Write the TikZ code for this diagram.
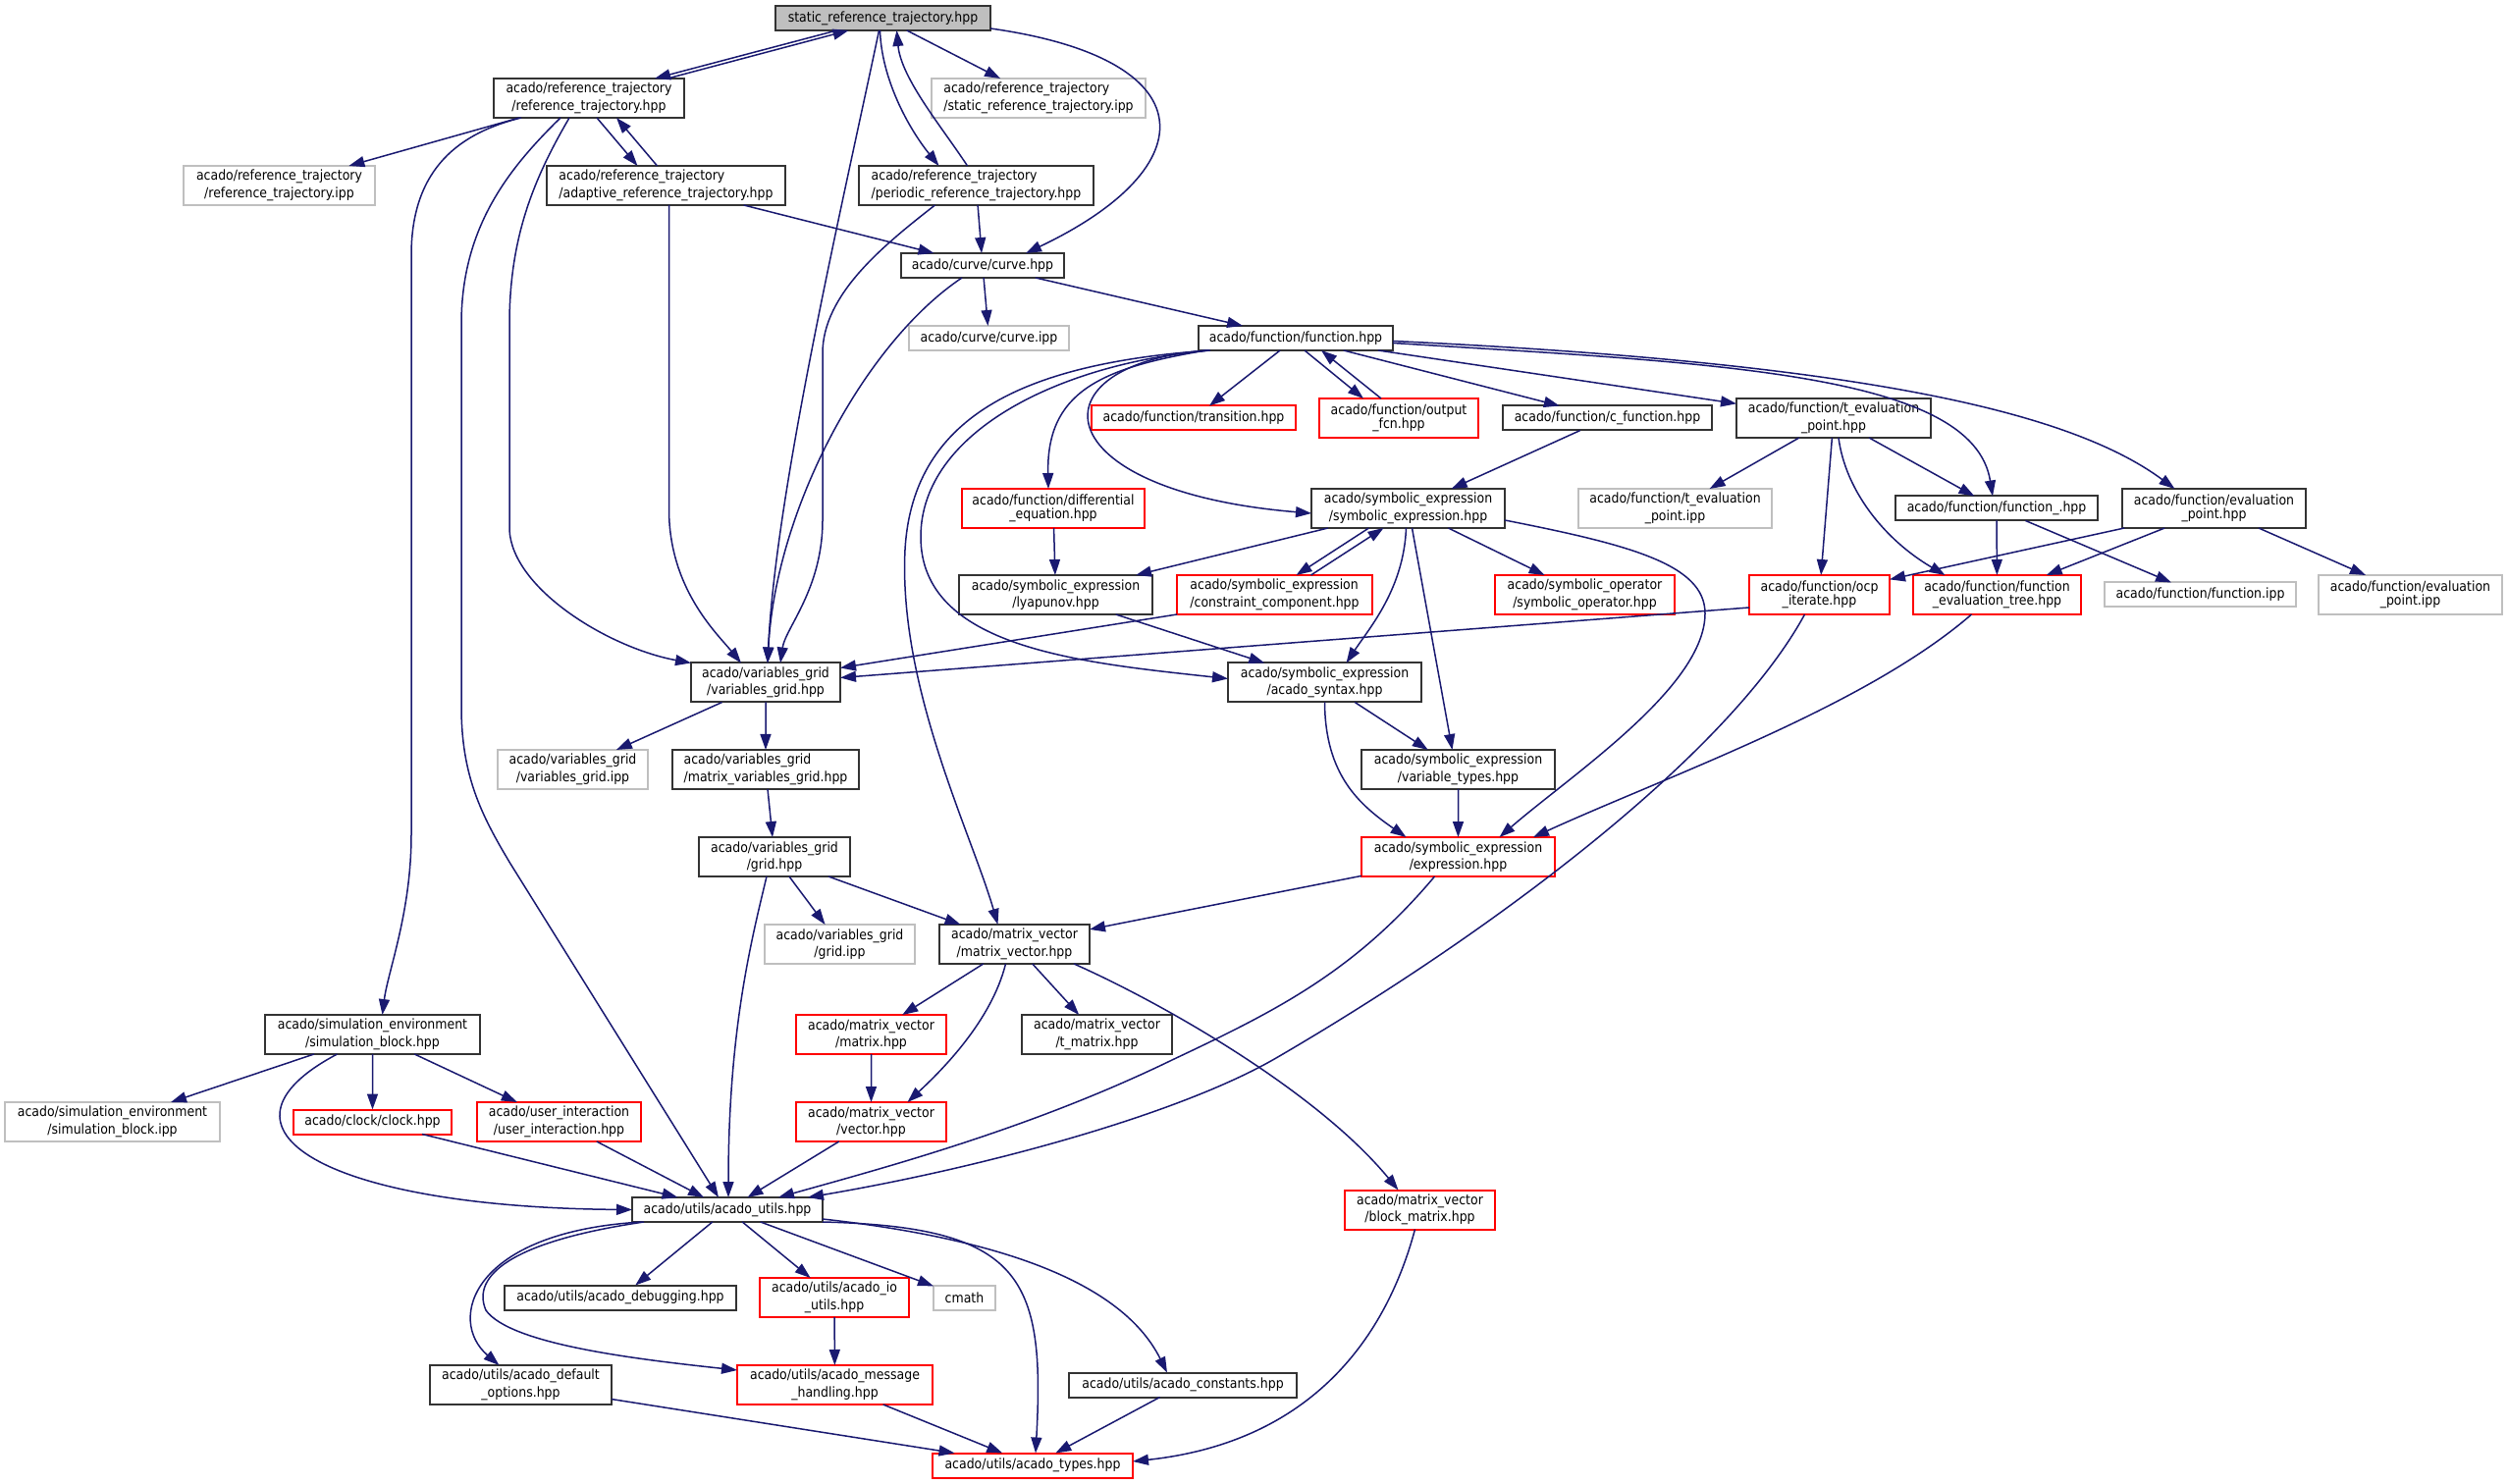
\documentclass[tikz,border=0pt]{standalone}
\usepackage{fontspec}
\setmainfont{DejaVu Sans}[FakeStretch=0.89]
\usepackage{tikz}
\usetikzlibrary{arrows.meta, positioning, calc}
\definecolor{edgeblue}{HTML}{191970}
\definecolor{redline}{HTML}{FF0000}
\definecolor{ghostline}{HTML}{BFBFBF}
\definecolor{rootfill}{HTML}{BFBFBF}

\begin{document}
\begin{tikzpicture}[
    x=0.1mm, y=-0.1mm,
    font=\fontsize{4pt}{3.98pt}\selectfont,
    box/.style={draw=black!80, line width=0.2mm, inner sep=0pt, outer sep=0pt, minimum height=4mm, align=center},
    one/.style={minimum height=2.5mm},
    w/.style={minimum width=#1mm},
    hot/.style={box, draw=redline},
    ghost/.style={box, draw=ghostline},
    cur/.style={box, fill=rootfill},
    ar/.style={-{Triangle[length=1.6mm, width=1.1mm]}, draw=edgeblue, line width=0.15mm}
  ]
    \useasboundingbox (0,0) rectangle (2555,1512);

    \node[cur, one, w=21.9] (root) at (899.5,18.5) {static\_reference\_trajectory.hpp};

    \node[box, w=19.4] (rt) at (600,100) {acado/reference\_trajectory\\/reference\_trajectory.hpp};
    \node[ghost, w=21.8, align=left, right=25.2mm of rt] (srtipp) {acado/reference\_trajectory\\/static\_reference\_trajectory.ipp};

    \node[ghost, w=19.5] (rtipp) at (284.5,189) {acado/reference\_trajectory\\/reference\_trajectory.ipp};
    \node[box, w=24.3, align=left, right=17.5mm of rtipp] (art) {acado/reference\_trajectory\\/adaptive\_reference\_trajectory.hpp};
    \node[box, w=23.9, align=left, right=7.5mm of art] (prt) {acado/reference\_trajectory\\/periodic\_reference\_trajectory.hpp};

    \node[box, one, w=16.6] (curve) at (1001,270.5) {acado/curve/curve.hpp};

    \node[ghost, one, w=16.3] (curveipp) at (1007.5,344.5) {acado/curve/curve.ipp};
    \node[box, one, w=19.8, right=13.2mm of curveipp] (function) {acado/function/function.hpp};

    \node[hot, one, w=20.8] (transition) at (1216,426) {acado/function/transition.hpp};
    \node[hot, w=16.2, right=2.4mm of transition] (outputfcn) {acado/function/output\\\_fcn.hpp};
    \node[box, one, w=21.3, right=2.5mm of outputfcn] (cfunction) {acado/function/c\_function.hpp};
    \node[box, w=19.8, right=2.5mm of cfunction] (tevalpt) {acado/function/t\_evaluation\\\_point.hpp};

    \node[hot, w=18.6] (diffeq) at (1073,518) {acado/function/differential\\\_equation.hpp};
    \node[box, w=19.7, right=17mm of diffeq] (symexpr) {acado/symbolic\_expression\\/symbolic\_expression.hpp};
    \node[ghost, w=19.7, right=7.5mm of symexpr] (tevalipp) {acado/function/t\_evaluation\\\_point.ipp};
    \node[box, one, w=20.6, right=12.6mm of tevalipp] (funcu) {acado/function/function\_.hpp};
    \node[box, w=18.7, right=2.5mm of funcu] (evalpt) {acado/function/evaluation\\\_point.hpp};

    \node[box, w=19.7] (lyapunov) at (1075.5,606) {acado/symbolic\_expression\\/lyapunov.hpp};
    \node[hot, w=19.9, align=left, right=2.5mm of lyapunov] (constraint) {acado/symbolic\_expression\\/constraint\_component.hpp};
    \node[hot, w=18.3, right=12.5mm of constraint] (symop) {acado/symbolic\_operator\\/symbolic\_operator.hpp};
    \node[hot, w=14.3, right=7.6mm of symop] (ocp) {acado/function/ocp\\\_iterate.hpp};
    \node[hot, w=17.1, right=2.4mm of ocp] (fevaltree) {acado/function/function\\\_evaluation\_tree.hpp};
    \node[ghost, one, w=19.5, right=2.4mm of fevaltree] (funcipp) {acado/function/function.ipp};
    \node[ghost, w=18.7, right=2.3mm of funcipp] (evalptipp) {acado/function/evaluation\\\_point.ipp};

    \node[box, w=15.2] (vgrid) at (780,695.5) {acado/variables\_grid\\/variables\_grid.hpp};
    \node[box, w=19.7, right=39.5mm of vgrid] (syntax) {acado/symbolic\_expression\\/acado\_syntax.hpp};

    \node[ghost, w=15.3] (vgridipp) at (583.5,784) {acado/variables\_grid\\/variables\_grid.ipp};
    \node[box, w=19, align=left, right=2.5mm of vgridipp] (mvgrid) {acado/variables\_grid\\/matrix\_variables\_grid.hpp};
    \node[box, w=19.7, right=51.2mm of mvgrid] (vartypes) {acado/symbolic\_expression\\/variable\_types.hpp};

    \node[box, w=15.4] (grid) at (789,873) {acado/variables\_grid\\/grid.hpp};
    \node[hot, w=19.7, right=52.1mm of grid] (expression) {acado/symbolic\_expression\\/expression.hpp};

    \node[ghost, w=15.3] (gridipp) at (855.5,962) {acado/variables\_grid\\/grid.ipp};
    \node[box, w=15.3, right=2.5mm of gridipp] (matvec) {acado/matrix\_vector\\/matrix\_vector.hpp};

    \node[box, w=21.9] (simblock) at (379.5,1054) {acado/simulation\_environment\\/simulation\_block.hpp};
    \node[hot, w=15.3, right=32.2mm of simblock] (matrix) {acado/matrix\_vector\\/matrix.hpp};
    \node[box, w=15.3, right=7.7mm of matrix] (tmatrix) {acado/matrix\_vector\\/t\_matrix.hpp};

    \node[ghost, w=21.9] (simblockipp) at (114.5,1143) {acado/simulation\_environment\\/simulation\_block.ipp};
    \node[hot, one, w=16.1, right=7.5mm of simblockipp] (clock) {acado/clock/clock.hpp};
    \node[hot, w=16.7, right=2.6mm of clock] (userint) {acado/user\_interaction\\/user\_interaction.hpp};
    \node[hot, w=15.3, right=15.8mm of userint] (vector) {acado/matrix\_vector\\/vector.hpp};

    \node[box, one, w=19.4] (utils) at (741,1232.5) {acado/utils/acado\_utils.hpp};
    \node[hot, w=15.3, right=53.2mm of utils] (blockmatrix) {acado/matrix\_vector\\/block\_matrix.hpp};

    \node[box, one, w=23.6] (debugging) at (632,1322) {acado/utils/acado\_debugging.hpp};
    \node[hot, w=15.2, right=2.4mm of debugging] (ioutils) {acado/utils/acado\_io\\\_utils.hpp};
    \node[ghost, one, w=6.3, right=2.5mm of ioutils] (cmath) {cmath};

    \node[box, w=18.5] (defaultopts) at (530.5,1411) {acado/utils/acado\_default\\\_options.hpp};
    \node[hot, w=19.9, right=12.8mm of defaultopts] (msghandling) {acado/utils/acado\_message\\\_handling.hpp};
    \node[box, one, w=23.2, right=13.9mm of msghandling] (constants) {acado/utils/acado\_constants.hpp};

    \node[hot, one, w=20.4] (types) at (1052,1493) {acado/utils/acado\_types.hpp};

    \draw[ar] ($(root.south)+(-47,0)$) -- ($(rt.north)+(67,0)$);
    \draw[ar] ($(rt.north)+(80,0)$) -- ($(root.south)+(-35,0)$);
    \draw[ar] (root) -- (srtipp);
    \draw[ar] ($(root.south)+(-3,0)$) .. controls (898,80) and (925,130) .. ($(prt.north)+(-38,0)$);
    \draw[ar] ($(prt.north)+(-9,0)$) .. controls (960,130) and (918,80) .. ($(root.south)+(14,0)$);
    \draw[ar] ($(root.south east)+(0,-2)$) .. controls (1230,60) and (1230,170) .. ($(curve.north)+(44,0)$);
    \draw[ar] ($(root.south)+(-4,0)$) .. controls (860,200) and (790,500) .. ($(vgrid.north)+(2,0)$);

    \draw[ar] (rt) -- (rtipp);
    \draw[ar] ($(rt.south)+(8,0)$) -- ($(art.north)+(-29,0)$);
    \draw[ar] ($(art.north)+(-9,0)$) -- ($(rt.south)+(28,0)$);
    \draw[ar] ($(rt.south)+(-69,0)$) .. controls (470,135) and (419,170) .. (419,260) -- (419,850) .. controls (419,930) and (395,990) .. ($(simblock.north)+(10,0)$);
    \draw[ar] ($(rt.south)+(-29,0)$) .. controls (520,170) and (470,230) .. (470,330) -- (470,720) .. controls (470,790) and (490,830) .. (520,880) -- ($(utils.north)+(-9,0)$);
    \draw[ar] ($(rt.south)+(-20,0)$) .. controls (545,180) and (519,240) .. (519,330) -- (519,540) .. controls (522,600) and (620,660) .. (vgrid.north west);

    \draw[ar] (art) -- (curve);
    \draw[ar] ($(art.south)+(3,0)$) -- (681.5,520) .. controls (682,600) and (730,645) .. ($(vgrid.north)+(-25,0)$);
    \draw[ar] (prt) -- (curve);
    \draw[ar] ($(prt.south)+(-42,0)$) .. controls (900,250) and (838,300) .. (838,360) -- (838,530) .. controls (838,600) and (800,640) .. ($(vgrid.north)+(15,0)$);

    \draw[ar] (curve) -- (curveipp);
    \draw[ar] (curve) -- (function);
    \draw[ar] ($(curve.south)+(-21,0)$) .. controls (880,350) and (790,520) .. ($(vgrid.north)+(2,0)$);

    \draw[ar] (function) -- (transition);
    \draw[ar] ($(function.south)+(9,0)$) -- ($(outputfcn.north)+(-36,0)$);
    \draw[ar] ($(outputfcn.north)+(-18,0)$) -- ($(function.south)+(26,0)$);
    \draw[ar] (function) -- (cfunction);
    \draw[ar] (function) -- (tevalpt);
    \draw[ar] ($(function.east)+(0,5)$) .. controls (1750,370) and (2010,380) .. ($(funcu.north)+(-4,0)$);
    \draw[ar] ($(function.east)+(0,3)$) .. controls (1900,370) and (2110,420) .. ($(evalpt.north)+(-40,0)$);
    \draw[ar] ($(function.south west)+(8,0)$) .. controls (1120,375) and (1066,400) .. ($(diffeq.north)+(-5,0)$);
    \draw[ar] ($(function.south west)+(10,0)$) .. controls (1050,370) and (1060,500) .. ($(symexpr.west)+(0,5)$);
    \draw[ar] ($(function.south west)+(12,0)$) .. controls (1080,370) and (938,440) .. (938,547) .. controls (938,660) and (1100,675) .. ($(syntax.west)+(0,-4)$);
    \draw[ar] ($(function.south west)+(11,0)$) .. controls (1050,370) and (930,420) .. (922,560) .. controls (915,700) and (990,850) .. ($(matvec.north)+(-17,0)$);

    \draw[ar] (cfunction) -- (symexpr);
    \draw[ar] (tevalpt) -- (tevalipp);
    \draw[ar] (tevalpt) -- (funcu);
    \draw[ar] (tevalpt) -- (ocp);
    \draw[ar] ($(tevalpt.south)+(5,0)$) .. controls (1880,500) and (1920,550) .. ($(fevaltree.north)+(-53,0)$);
    \draw[ar] (funcu) -- (fevaltree);
    \draw[ar] (funcu) -- (funcipp);
    \draw[ar] (evalpt) -- (ocp);
    \draw[ar] (evalpt) -- (fevaltree);
    \draw[ar] (evalpt) -- (evalptipp);
    \draw[ar] ($(ocp.west)+(0,13)$) -- ($(vgrid.east)+(0,-5)$);
    \draw[ar] ($(ocp.south)+(-15,0)$) .. controls (1760,770) and (1520,950) .. (1300,1078) .. controls (1200,1136) and (1000,1190) .. ($(utils.north east)+(-15,0)$);
    \draw[ar] ($(fevaltree.south)+(-26,0)$) .. controls (1900,720) and (1700,790) .. ($(expression.north east)+(-22,0)$);

    \draw[ar] (symexpr) -- (lyapunov);
    \draw[ar] ($(symexpr.south)+(-40,0)$) -- ($(constraint.north)+(22,0)$);
    \draw[ar] ($(constraint.north)+(37,0)$) -- ($(symexpr.south)+(-25,0)$);
    \draw[ar] ($(symexpr.south)+(-2,0)$) .. controls (1430,600) and (1395,640) .. ($(syntax.north)+(22,0)$);
    \draw[ar] ($(symexpr.south)+(4,0)$) -- ($(vartypes.north)+(-6,0)$);
    \draw[ar] (symexpr) -- (symop);
    \draw[ar] ($(symexpr.east)+(0,12)$) .. controls (1660,555) and (1737,575) .. (1737,625) .. controls (1737,700) and (1600,790) .. ($(expression.north)+(42,0)$);

    \draw[ar] (lyapunov) -- (syntax);
    \draw[ar] (constraint.south west) -- ($(vgrid.east)+(0,-15)$);
    \draw[ar] (diffeq) -- (lyapunov);
    \draw[ar] (syntax) -- (vartypes);
    \draw[ar] (syntax.south) .. controls (1350,790) and (1385,820) .. ($(expression.north)+(-53,0)$);
    \draw[ar] (vartypes) -- (expression);
    \draw[ar] (expression) -- (matvec);
    \draw[ar] ($(expression.south)+(-24,0)$) .. controls (1380,990) and (1300,1030) .. (1194,1080) .. controls (1050,1150) and (900,1190) .. ($(utils.north east)+(-45,0)$);

    \draw[ar] (vgrid) -- (vgridipp);
    \draw[ar] (vgrid) -- (mvgrid);
    \draw[ar] (mvgrid) -- (grid);
    \draw[ar] (grid) -- (gridipp);
    \draw[ar] (grid) -- (matvec);
    \draw[ar] ($(grid.south)+(-8,0)$) .. controls (765,960) and (742,1050) .. ($(utils.north)+(1,0)$);
    \draw[ar] (matvec) -- (matrix);
    \draw[ar] ($(matvec.south)+(-9,0)$) .. controls (1010,1040) and (960,1090) .. ($(vector.north)+(37,0)$);
    \draw[ar] (matvec) -- (tmatrix);
    \draw[ar] ($(matvec.south east)+(-16,0)$) .. controls (1180,1020) and (1340,1110) .. ($(blockmatrix.north)+(-22,0)$);
    \draw[ar] (matrix) -- (vector);

    \draw[ar] (simblock) -- (simblockipp);
    \draw[ar] (simblock) -- (clock);
    \draw[ar] (simblock) -- (userint);
    \draw[ar] ($(simblock.south)+(-36,0)$) .. controls (200,1150) and (330,1230) .. (utils.west);
    \draw[ar] (clock) -- (utils);
    \draw[ar] (userint) -- (utils);
    \draw[ar] (vector) -- (utils);

    \draw[ar] (utils) -- (debugging);
    \draw[ar] (utils) -- (ioutils);
    \draw[ar] (utils) -- (cmath);
    \draw[ar] ($(utils.south west)+(10,0)$) .. controls (480,1255) and (455,1345) .. ($(defaultopts.north)+(-22,0)$);
    \draw[ar] ($(utils.south west)+(12,0)$) .. controls (520,1265) and (480,1300) .. (495,1335) .. controls (520,1370) and (650,1385) .. ($(msghandling.west)+(0,-15)$);
    \draw[ar] (utils.south east) .. controls (1040,1250) and (1065,1300) .. ($(types.north)+(3,0)$);
    \draw[ar] ($(utils.south east)+(0,-3)$) .. controls (1000,1260) and (1140,1300) .. ($(constants.north)+(-16,0)$);
    \draw[ar] (ioutils) -- (msghandling);
    \draw[ar] (defaultopts) -- (types);
    \draw[ar] (msghandling) -- (types);
    \draw[ar] (constants) -- (types);
    \draw[ar] ($(blockmatrix.south)+(-5,0)$) .. controls (1410,1370) and (1330,1470) .. ($(types.east)+(0,-4)$);
  \end{tikzpicture}
\end{document}
